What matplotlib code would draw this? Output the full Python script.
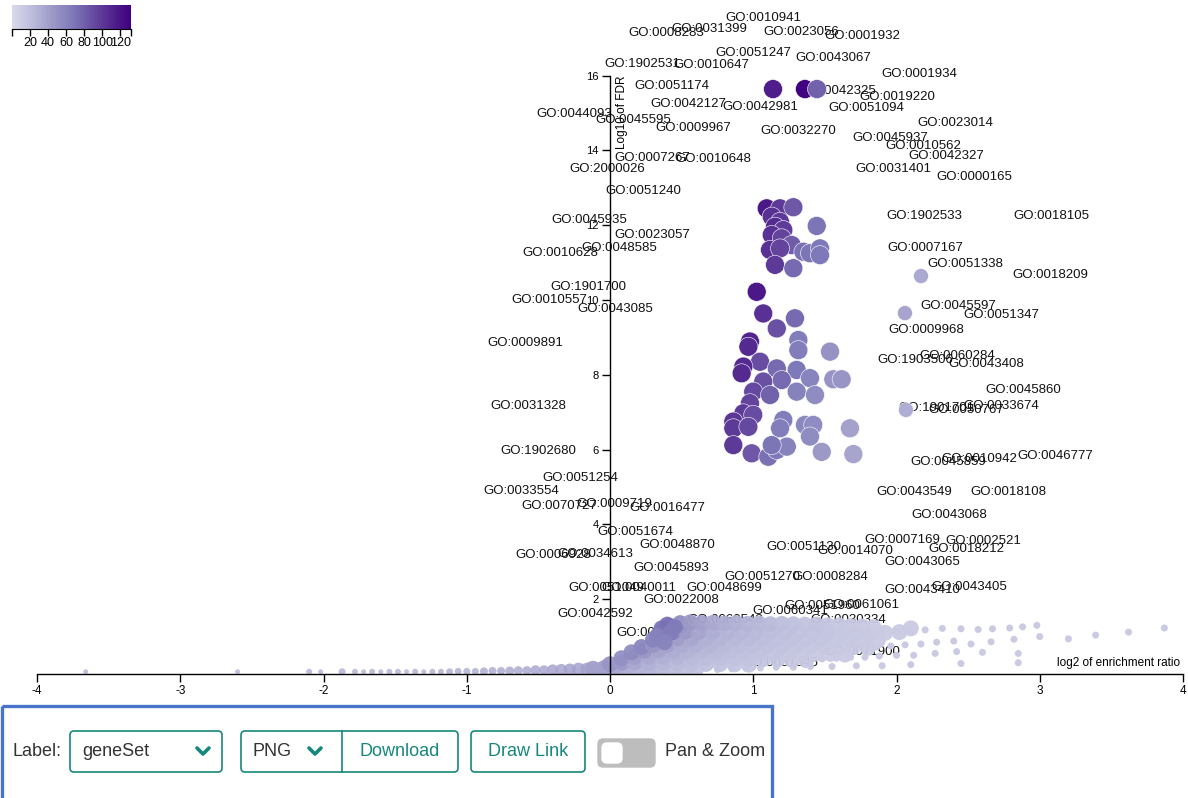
import matplotlib
matplotlib.use("Agg")
import matplotlib.pyplot as plt
import numpy as np
from matplotlib.colors import LinearSegmentedColormap
from matplotlib.patches import FancyBboxPatch, Rectangle

plt.rcParams['font.family'] = ['Liberation Sans', 'DejaVu Sans']

# ---- significant gene sets (big circles) ----
sig_x = [1.138, 1.361, 1.445,
         1.094, 1.187, 1.280, 1.129, 1.187, 1.152, 1.210, 1.443, 1.129, 1.199,
         1.268, 1.117, 1.187, 1.350, 1.396, 1.466, 1.466, 1.152, 1.280,
         1.024, 1.070, 1.164, 1.291, 0.977, 0.966, 1.315, 1.315, 1.536,
         1.047, 0.931, 0.919, 1.164, 1.303, 1.199, 1.070, 1.396, 1.559, 1.617,
         1.000, 1.117, 1.303, 1.431, 0.977, 0.931, 1.000, 0.861, 0.861, 0.966,
         1.210, 1.187, 1.361, 1.419, 1.396, 1.675, 0.861, 0.989, 1.105, 1.164,
         1.234, 1.129, 1.478, 1.699,
         2.171, 2.059, 2.066]
sig_y = [15.64, 15.64, 15.64,
         12.45, 12.45, 12.48, 12.23, 12.09, 11.96, 11.87, 11.98, 11.74, 11.65,
         11.47, 11.34, 11.38, 11.29, 11.25, 11.38, 11.20, 10.94, 10.85,
         10.22, 9.64, 9.24, 9.51, 8.89, 8.75, 8.93, 8.66, 8.62,
         8.35, 8.22, 8.04, 8.17, 8.13, 7.86, 7.82, 7.91, 7.88, 7.88,
         7.55, 7.46, 7.55, 7.46, 7.24, 6.97, 6.93, 6.75, 6.57, 6.61,
         6.79, 6.57, 6.66, 6.66, 6.35, 6.57, 6.12, 5.90, 5.81, 5.99,
         6.08, 6.12, 5.94, 5.88,
         10.64, 9.65, 7.06]
sig_v = [115, 130, 80,
         118, 100, 85, 105, 100, 108, 98, 70, 105, 95,
         82, 105, 95, 72, 70, 68, 68, 100, 75,
         118, 105, 88, 75, 110, 108, 65, 65, 50,
         90, 108, 108, 75, 68, 75, 88, 60, 48, 48,
         92, 80, 62, 55, 95, 100, 90, 102, 100, 92,
         65, 65, 58, 55, 55, 40, 100, 85, 72, 68,
         62, 70, 45, 38,
         35, 38, 32]
sig_d = [19] * 65 + [15, 15, 15]

# ---- non-significant gene sets (background cloud) ----
rowA_x = [0.42, 0.49, 0.56, 0.64, 0.72, 0.80, 0.88, 0.96, 1.04, 1.12, 1.20, 1.28, 1.36, 1.44, 1.52, 1.60, 1.68, 1.76, 1.84]
rowA_y = [1.28, 1.36, 1.38, 1.36, 1.37, 1.35, 1.36, 1.34, 1.35, 1.33, 1.34, 1.33, 1.32, 1.32, 1.30, 1.30, 1.28, 1.27, 1.25]
rowA_v = [70, 55, 45, 40, 35, 32, 30, 28, 25, 24, 22, 20, 18, 18, 16, 15, 14, 13, 12]
rowB_x = [0.36, 0.44, 0.53, 0.62, 0.72, 0.82, 0.92, 1.02, 1.12, 1.22, 1.32, 1.42, 1.52, 1.62, 1.72, 1.82, 1.92, 2.02, 2.10]
rowB_y = [1.15, 1.12, 1.14, 1.12, 1.13, 1.12, 1.12, 1.11, 1.12, 1.10, 1.12, 1.10, 1.11, 1.10, 1.10, 1.08, 1.10, 1.12, 1.22]
rowB_v = [72, 60, 45, 38, 32, 28, 26, 24, 22, 20, 18, 17, 16, 15, 14, 13, 12, 12, 12]
rowC_x = [0.30, 0.38, 0.47, 0.57, 0.67, 0.77, 0.87, 0.97, 1.07, 1.17, 1.27, 1.37, 1.47, 1.57, 1.67, 1.77, 1.87]
rowC_y = [0.92, 0.96, 0.95, 0.94, 0.95, 0.94, 0.95, 0.93, 0.95, 0.94, 0.93, 0.94, 0.92, 0.93, 0.92, 0.91, 0.90]
rowC_v = [60, 50, 42, 36, 30, 27, 25, 23, 21, 19, 18, 17, 16, 15, 14, 13, 12]
rowD_x = [0.22, 0.30, 0.40, 0.50, 0.60, 0.70, 0.80, 0.90, 1.00, 1.10, 1.20, 1.30, 1.40, 1.50, 1.60, 1.70, 1.80]
rowD_y = [0.72, 0.78, 0.78, 0.77, 0.78, 0.77, 0.78, 0.76, 0.77, 0.76, 0.75, 0.76, 0.74, 0.74, 0.72, 0.72, 0.70]
rowD_v = [58, 48, 40, 34, 30, 27, 24, 22, 20, 19, 18, 16, 15, 14, 13, 12, 12]
rowE_x = [0.15, 0.24, 0.34, 0.44, 0.54, 0.64, 0.74, 0.84, 0.94, 1.04, 1.14, 1.24, 1.34, 1.44, 1.54, 1.64]
rowE_y = [0.58, 0.62, 0.63, 0.62, 0.61, 0.62, 0.60, 0.61, 0.60, 0.58, 0.58, 0.56, 0.56, 0.55, 0.54, 0.52]
rowE_v = [55, 46, 38, 32, 28, 25, 23, 21, 19, 18, 16, 15, 14, 13, 12, 12]
rowF_x = [0.08, 0.17, 0.27, 0.37, 0.47, 0.57, 0.67, 0.77, 0.87, 0.97, 1.07, 1.17, 1.27, 1.37]
rowF_y = [0.42, 0.46, 0.47, 0.46, 0.45, 0.45, 0.44, 0.43, 0.42, 0.41, 0.40, 0.39, 0.38, 0.37]
rowF_v = [52, 42, 35, 30, 27, 24, 22, 20, 18, 17, 16, 15, 14, 13]
rowG_x = [0.00, 0.08, 0.17, 0.27, 0.37, 0.47, 0.57, 0.67, 0.77, 0.87, 0.97]
rowG_y = [0.26, 0.30, 0.31, 0.30, 0.30, 0.29, 0.28, 0.27, 0.27, 0.26, 0.25]
rowG_v = [48, 44, 36, 30, 26, 23, 21, 19, 18, 16, 15]
rowH_x = [-0.12, -0.04, 0.04, 0.12, 0.20, 0.28, 0.36, 0.44, 0.52, 0.60]
rowH_y = [0.14, 0.16, 0.17, 0.16, 0.15, 0.15, 0.14, 0.14, 0.13, 0.13]
rowH_v = [40, 40, 38, 34, 30, 27, 24, 22, 20, 18]
blob_x = [0.36, 0.40, 0.45, 0.33, 0.42, 0.38]
blob_y = [1.22, 1.32, 1.25, 1.02, 1.10, 0.85]
blob_v = [68, 72, 66, 62, 65, 60]

# dotted rays to the right (small, light)
ray_x = [3.87, 3.62, 3.39, 3.20,
         2.98, 2.88, 2.79, 2.67, 2.57, 2.45, 2.32, 2.20, 2.10, 2.00, 1.90,
         3.00, 2.82, 2.66, 2.52, 2.40, 2.28, 2.17, 2.06, 1.96, 1.86,
         2.85, 2.60, 2.42, 2.27, 2.12, 2.00, 1.88, 1.78, 1.68, 1.58, 1.48,
         2.85, 2.45, 2.10, 1.90, 1.72, 1.55, 1.40, 1.28, 1.16, 1.05, 0.95, 0.85, 0.75]
ray_y = [1.23, 1.12, 1.04, 0.94,
         1.30, 1.26, 1.23, 1.21, 1.19, 1.21, 1.22, 1.18, 1.16, 1.14, 1.13,
         1.00, 0.93, 0.86, 0.80, 0.88, 0.85, 0.80, 0.78, 0.75, 0.72,
         0.55, 0.58, 0.60, 0.55, 0.50, 0.50, 0.48, 0.45, 0.45, 0.42, 0.40,
         0.30, 0.28, 0.25, 0.22, 0.22, 0.20, 0.20, 0.18, 0.18, 0.16, 0.15, 0.14, 0.12]

# depleted side, along the axis
neg_x = [-3.66, -2.60, -2.10, -2.02, -1.87, -1.78, -1.72, -1.66, -1.60, -1.54, -1.48, -1.42,
         -1.36, -1.30, -1.24, -1.18, -1.12, -1.06, -1.00, -0.94, -0.88, -0.82, -0.76, -0.70,
         -0.64, -0.58, -0.52, -0.46, -0.40, -0.34, -0.28, -0.22, -0.16, -0.10, -0.04]
neg_y = [0.06, 0.06, 0.06, 0.06, 0.06, 0.06, 0.06, 0.06, 0.06, 0.06, 0.06, 0.06,
         0.06, 0.06, 0.06, 0.06, 0.06, 0.07, 0.07, 0.07, 0.07, 0.08, 0.08, 0.08,
         0.09, 0.09, 0.10, 0.10, 0.11, 0.11, 0.12, 0.13, 0.13, 0.14, 0.15]
neg_d = [5, 5, 6, 5, 7, 6, 5, 6, 5, 6, 6, 5,
         6, 5, 6, 6, 7, 7, 7, 7, 8, 8, 8, 9,
         9, 9, 10, 10, 11, 12, 12, 13, 13, 14, 14]
neg_v = [26, 26, 28, 26, 28, 26, 26, 28, 26, 26, 28, 26,
         28, 26, 28, 28, 30, 30, 30, 30, 32, 32, 33, 33,
         34, 35, 36, 36, 38, 38, 40, 40, 40, 42, 42]

# ---- gene set labels ----
lab_text = ['GO:0010941', 'GO:0008283', 'GO:0031399', 'GO:0023056', 'GO:0001932', 'GO:0051247',
            'GO:0043067', 'GO:1902531', 'GO:0010647', 'GO:0051174', 'GO:0042325', 'GO:0019220',
            'GO:0042127', 'GO:0042981', 'GO:0051094', 'GO:0044093', 'GO:0045595', 'GO:0009967',
            'GO:0032270', 'GO:0001934', 'GO:0023014', 'GO:0045937', 'GO:0010562', 'GO:0042327',
            'GO:0031401', 'GO:0000165', 'GO:0007267', 'GO:0010648', 'GO:2000026', 'GO:0051240',
            'GO:0045935', 'GO:0023057', 'GO:0048585', 'GO:0010628', 'GO:1901700', 'GO:0010557',
            'GO:0043085', 'GO:0009891', 'GO:0031328', 'GO:1902680', 'GO:0051254', 'GO:0033554',
            'GO:0070727', 'GO:0009719', 'GO:0016477', 'GO:0051674', 'GO:0048870', 'GO:0006928',
            'GO:0034613', 'GO:0045893', 'GO:0051049', 'GO:0040011', 'GO:0048699', 'GO:0022008',
            'GO:0042592', 'GO:0051270', 'GO:0008284', 'GO:0051130', 'GO:0014070', 'GO:0007169',
            'GO:0002521', 'GO:0018212', 'GO:0043065', 'GO:0043410', 'GO:0043405', 'GO:0051960',
            'GO:0060341', 'GO:0061061', 'GO:0030334', 'GO:0060548', 'GO:0072359', 'GO:0071900',
            'GO:0031345', 'GO:0043549', 'GO:0018108', 'GO:0043068', 'GO:0045859', 'GO:0010942',
            'GO:0046777', 'GO:1901701', 'GO:0050767', 'GO:0033674', 'GO:0045860', 'GO:1903506',
            'GO:0060284', 'GO:0043408', 'GO:0009968', 'GO:0045597', 'GO:0051347', 'GO:0051338',
            'GO:0018209', 'GO:0007167', 'GO:1902533', 'GO:0018105']
lab_x = [1.068, 0.391, 0.691, 1.333, 1.759, 0.998,
         1.557, 0.223, 0.705, 0.433, 1.592, 2.003,
         0.545, 1.047, 1.787, -0.251, 0.161, 0.579,
         1.312, 2.157, 2.408, 1.955, 2.185, 2.346,
         1.976, 2.541, 0.293, 0.719, -0.021, 0.230,
         -0.147, 0.293, 0.063, -0.349, -0.154, -0.426,
         0.035, -0.593, -0.572, -0.503, -0.209, -0.621,
         -0.356, 0.028, 0.398, 0.175, 0.468, -0.398,
         -0.105, 0.426, -0.028, 0.202, 0.796, 0.496,
         -0.105, 1.061, 1.536, 1.354, 1.710, 2.038,
         2.604, 2.485, 2.178, 2.178, 2.506, 1.480,
         1.257, 1.752, 1.661, 0.803, 0.307, 1.759,
         1.187, 2.122, 2.778, 2.366, 2.360, 2.576,
         3.106, 2.276, 2.485, 2.729, 2.883, 2.129,
         2.422, 2.625, 2.206, 2.429, 2.729, 2.478,
         3.072, 2.199, 2.192, 3.079]
lab_y = [17.54, 17.14, 17.25, 17.17, 17.06, 16.60,
         16.47, 16.31, 16.28, 15.72, 15.59, 15.43,
         15.24, 15.16, 15.13, 14.97, 14.81, 14.60,
         14.52, 16.04, 14.73, 14.33, 14.12, 13.85,
         13.50, 13.29, 13.80, 13.77, 13.50, 12.91,
         12.14, 11.74, 11.39, 11.26, 10.35, 10.00,
         9.76, 8.85, 7.17, 5.96, 5.24, 4.89,
         4.49, 4.55, 4.44, 3.80, 3.45, 3.18,
         3.21, 2.83, 2.30, 2.30, 2.30, 1.98,
         1.60, 2.59, 2.59, 3.40, 3.29, 3.58,
         3.56, 3.34, 2.99, 2.25, 2.33, 1.82,
         1.68, 1.84, 1.44, 1.44, 1.10, 0.59,
         0.29, 4.87, 4.87, 4.25, 5.67, 5.75,
         5.83, 7.11, 7.06, 7.17, 7.59, 8.40,
         8.50, 8.29, 9.20, 9.84, 9.60, 10.96,
         10.67, 11.39, 12.25, 12.25]

x_ticks = [-4, -3, -2, -1, 0, 1, 2, 3, 4]
y_ticks = [2, 4, 6, 8, 10, 12, 14, 16]
cb_ticks = [20, 40, 60, 80, 100, 120]

W, H = 1188, 798
fig = plt.figure(figsize=(W / 100, H / 100), dpi=100)

cmap = LinearSegmentedColormap.from_list('purp', plt.get_cmap('Purples')(np.linspace(0.25, 1.0, 256)))
vmin, vmax = 0, 132

ax = fig.add_axes([37 / W, 124 / H, (1183 - 37) / W, 674 / H])
ax.set_xlim(-4, 4)
ax.set_ylim(0, 674 / 37.4)
ax.patch.set_alpha(0)

def px2s(d):
    return (np.asarray(d, dtype=float) * 0.72) ** 2

# cloud
ax.scatter(neg_x, neg_y, s=px2s(neg_d), c=neg_v, cmap=cmap, vmin=vmin, vmax=vmax,
           edgecolors='none', alpha=0.85, zorder=3)
ax.scatter(ray_x, ray_y, s=px2s(7), c=[12] * len(ray_x), cmap=cmap, vmin=vmin, vmax=vmax,
           edgecolors='none', zorder=3)
for rx, ry, rv in [(rowH_x, rowH_y, rowH_v), (rowG_x, rowG_y, rowG_v), (rowF_x, rowF_y, rowF_v),
                   (rowE_x, rowE_y, rowE_v), (rowD_x, rowD_y, rowD_v), (rowC_x, rowC_y, rowC_v),
                   (rowB_x, rowB_y, rowB_v), (rowA_x, rowA_y, rowA_v), (blob_x, blob_y, blob_v)]:
    ax.scatter(rx, ry, s=px2s(16), c=rv, cmap=cmap, vmin=vmin, vmax=vmax,
               edgecolors='none', alpha=0.95, zorder=3)

# significant
ax.scatter(sig_x, sig_y, s=px2s(sig_d), c=sig_v, cmap=cmap, vmin=vmin, vmax=vmax,
           edgecolors='white', linewidths=0.4, zorder=4)

for t, x, y in zip(lab_text, lab_x, lab_y):
    ax.text(x, y, t, fontsize=9.5, ha='center', va='center', color='#111111', zorder=2)

# axes styling
for s in ['top', 'right']:
    ax.spines[s].set_visible(False)
ax.spines['left'].set_position(('data', 0))
ax.spines['left'].set_bounds(0, 16)
ax.spines['bottom'].set_bounds(-4, 4)
for s in ['left', 'bottom']:
    ax.spines[s].set_linewidth(1.0)
    ax.spines[s].set_zorder(5)
ax.set_xticks(x_ticks)
ax.set_xticklabels([str(v) for v in x_ticks])
ax.set_yticks(y_ticks)
ax.set_yticklabels([str(v) for v in y_ticks])
ax.tick_params(axis='x', direction='out', length=6, width=1, labelsize=8.5, pad=2)
ax.tick_params(axis='y', direction='out', length=6, width=1, labelsize=8, pad=2)
ax.text(0.084, 16.0, 'Log10 of FDR', rotation=90, ha='center', va='top', fontsize=8.5, zorder=6)
ax.text(3.98, 0.29, 'log2 of enrichment ratio', ha='right', va='center', fontsize=8.5, zorder=6)

# colour legend
cax = fig.add_axes([12 / W, (H - 29) / H, 119 / W, 24 / H])
grad = np.linspace(vmin, vmax, 256).reshape(1, -1)
cax.imshow(grad, extent=[vmin, vmax, 0, 1], aspect='auto', cmap=cmap, vmin=vmin, vmax=vmax)
cax.set_xlim(vmin, vmax)
cax.set_ylim(0, 1)
for s in ['top', 'right', 'left']:
    cax.spines[s].set_visible(False)
cax.set_yticks([])
cax.set_xticks([vmin] + cb_ticks + [vmax])
cax.set_xticklabels([''] + [str(v) for v in cb_ticks] + [''])
cax.tick_params(axis='x', direction='out', length=5, width=1, labelsize=9, pad=1)

# control bar underneath the chart
ov = fig.add_axes([0, 0, 1, 1])
ov.set_xlim(0, W)
ov.set_ylim(H, 0)
ov.axis('off')
ov.patch.set_alpha(0)
teal = '#16877c'
ov.add_patch(Rectangle((2, 706), 770, 100, fill=False, edgecolor='#4a74c9', lw=2.4))
ov.text(12, 752, 'Label:', fontsize=13, va='center', ha='left', color='#333333')

def box(x0, x1):
    ov.add_patch(FancyBboxPatch((x0, 731), x1 - x0, 41, boxstyle='round,pad=0,rounding_size=4',
                                fill=False, edgecolor=teal, lw=1.2))

def chevron(cx, cy):
    ov.plot([cx - 6, cx, cx + 6], [cy - 3, cy + 3, cy - 3], color=teal, lw=2.6,
            solid_capstyle='round', solid_joinstyle='round')

box(70, 222)
ov.text(82, 752, 'geneSet', fontsize=13, va='center', ha='left', color='#333333')
chevron(203, 751)
box(241, 458)
ov.plot([342, 342], [731, 772], color=teal, lw=1.2)
ov.text(253, 752, 'PNG', fontsize=13, va='center', ha='left', color='#333333')
chevron(315, 751)
ov.text(400, 752, 'Download', fontsize=13, va='center', ha='center', color=teal)
box(471, 585)
ov.text(528, 752, 'Draw Link', fontsize=13, va='center', ha='center', color=teal)
ov.add_patch(FancyBboxPatch((598, 739), 57, 28, boxstyle='round,pad=0,rounding_size=5',
                            facecolor='#bdbdbd', edgecolor='#bdbdbd'))
ov.add_patch(FancyBboxPatch((602, 743), 20, 20, boxstyle='round,pad=0,rounding_size=5',
                            facecolor='white', edgecolor='white'))
ov.text(665, 752, 'Pan & Zoom', fontsize=13, va='center', ha='left', color='#333333')

fig.savefig('out.png', dpi=100)
